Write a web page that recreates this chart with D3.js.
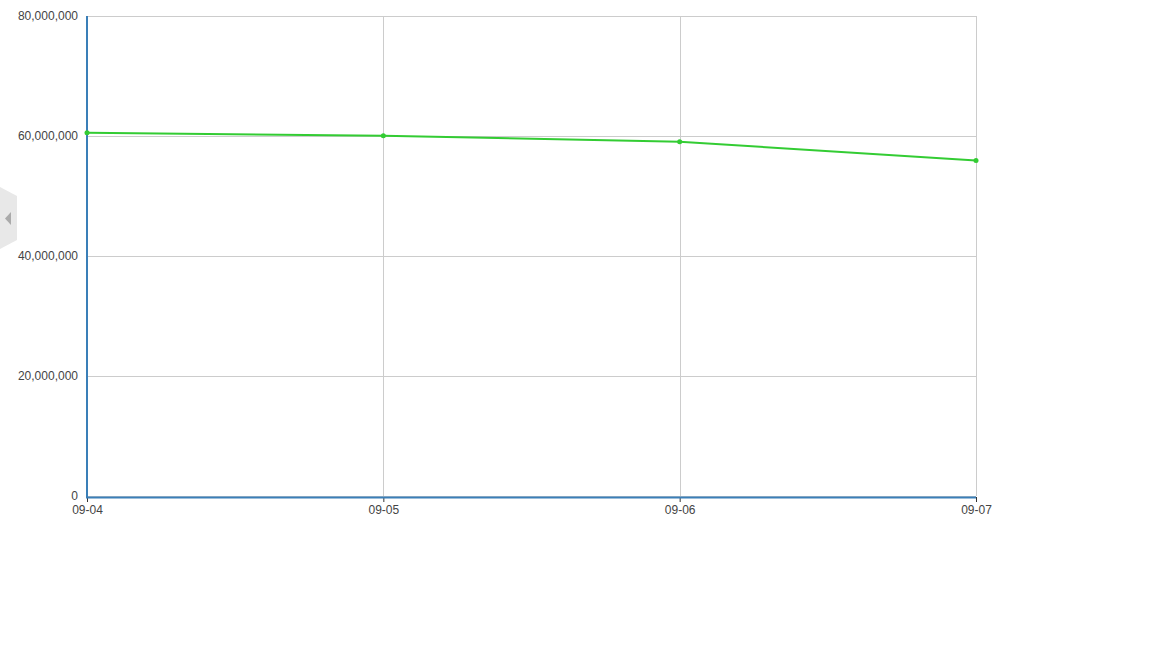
<!DOCTYPE html>
<html><head><meta charset="utf-8">
<script src="https://cdn.jsdelivr.net/npm/d3@7"></script>
<style>body{margin:0;background:#fff;}svg{display:block;font-family:"Liberation Sans",Arial,sans-serif;}</style>
</head><body><svg id="c" width="1152" height="648"></svg>
<script>
const categories = ["09-04","09-05","09-06","09-07"];
const values = [60550000, 60050000, 59050000, 55900000];
const yTicks = [0, 20000000, 40000000, 60000000, 80000000];

const svg = d3.select("#c");
const m = {left:87, right:176, top:16, bottom:152};
const W = 1152, H = 648;
const x = d3.scalePoint().domain(categories).range([m.left, W - m.right]);
const y = d3.scaleLinear().domain([0, 80000000]).range([H - m.bottom, m.top]);

// gridlines
svg.append("g").selectAll("line.h").data(yTicks).join("line")
  .attr("x1", m.left).attr("x2", W - m.right)
  .attr("y1", d => Math.round(y(d)) + 0.5).attr("y2", d => Math.round(y(d)) + 0.5)
  .attr("stroke", "#cccccc").attr("stroke-width", 1);
svg.append("g").selectAll("line.v").data(categories).join("line")
  .attr("x1", d => Math.round(x(d)) + 0.5).attr("x2", d => Math.round(x(d)) + 0.5)
  .attr("y1", m.top).attr("y2", H - m.bottom)
  .attr("stroke", "#cccccc").attr("stroke-width", 1);

// axes
const yAxis = svg.append("g").attr("transform", `translate(${m.left},0)`)
  .call(d3.axisLeft(y).tickValues(yTicks).tickFormat(d3.format(",")).tickSize(0).tickPadding(9));
yAxis.select(".domain").remove();
yAxis.selectAll("text").attr("font-size", 12).attr("fill", "#444").attr("font-family", "Liberation Sans, Arial, sans-serif");

const xAxis = svg.append("g").attr("transform", `translate(0,${H - m.bottom + 1})`)
  .call(d3.axisBottom(x).tickSize(5).tickPadding(3));
xAxis.select(".domain").remove();
xAxis.selectAll(".tick line").attr("stroke", "#333");
xAxis.selectAll("text").attr("font-size", 12).attr("fill", "#444").attr("font-family", "Liberation Sans, Arial, sans-serif");

// axis lines (blue)
svg.append("line").attr("x1", m.left).attr("x2", m.left)
  .attr("y1", m.top).attr("y2", H - m.bottom + 2)
  .attr("stroke", "#3a7fb8").attr("stroke-width", 2);
svg.append("line").attr("x1", m.left - 1).attr("x2", W - m.right)
  .attr("y1", H - m.bottom + 1.5).attr("y2", H - m.bottom + 1.5)
  .attr("stroke", "#3a7fb8").attr("stroke-width", 2);

// line
const data = categories.map((c, i) => ({c, v: values[i]}));
svg.append("path").datum(data)
  .attr("fill", "none").attr("stroke", "#33cc33").attr("stroke-width", 2)
  .attr("d", d3.line().x(d => x(d.c)).y(d => y(d.v)));
svg.append("g").selectAll("circle").data(data).join("circle")
  .attr("cx", d => x(d.c)).attr("cy", d => y(d.v)).attr("r", 2.5)
  .attr("fill", "#33cc33");

// side tab
svg.append("path").attr("d", "M0,187 L17,196 L17,240 L0,249 Z").attr("fill", "#e8e8e8");
svg.append("path").attr("d", "M5,218.5 L11,212 L11,225 Z").attr("fill", "#aaaaaa");
</script></body></html>
